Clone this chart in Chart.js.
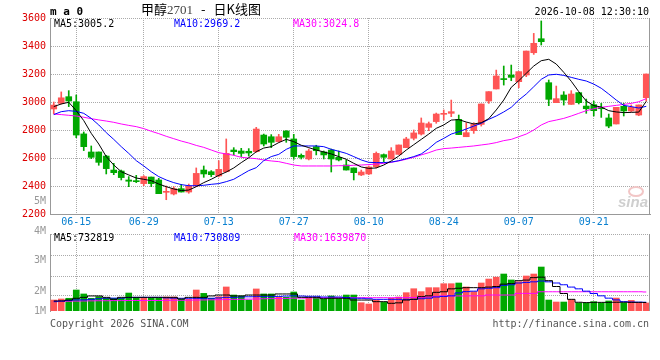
<!DOCTYPE html>
<html>
<head>
<meta charset="utf-8">
<script src="https://cdn.jsdelivr.net/npm/chart.js@4.4.1/dist/chart.umd.min.js"></script>
<style>
    body { margin: 0; background: #fff; }
    #wrap { position: relative; width: 660px; height: 360px; overflow: hidden; background: #fff;
            font-family: "DejaVu Sans Mono", monospace; font-size: 10px; }
    #kline { position: absolute; left: 0; top: 0; }
    #vol { position: absolute; left: 0; top: 226px; }
    .t { position: absolute; white-space: nowrap; line-height: 12px; height: 12px; }
    .r { text-align: right; }
</style>
</head>
<body>
<div id="wrap">
    <canvas id="kline" width="660" height="232"></canvas>
    <canvas id="vol" width="660" height="134"></canvas>

    <div class="t" style="left:50px;top:6px;font-weight:bold;font-size:11px;">m a 0</div>
    <div class="t" style="left:141px;top:1px;height:15px;line-height:15px;font-family:'Noto Sans CJK SC',sans-serif;font-size:13px;">甲醇<span style="color:#444;font-family:'Liberation Serif',serif;">2701</span><span style="margin:0 8px;">-</span>日K线图</div>
    <div class="t r" style="right:11px;top:6px;">2026-10-08 12:30:10</div>

    <div class="t" style="left:54px;top:18px;color:#000;">MA5:3005.2</div>
    <div class="t" style="left:174px;top:18px;color:#0000ff;">MA10:2969.2</div>
    <div class="t" style="left:293px;top:18px;color:#ff00ff;">MA30:3024.8</div>

    <div class="t r" style="right:614px;top:195px;color:#999;">5M</div>
    <div class="t r" style="right:614px;top:225px;color:#999;">4M</div>
    <div class="t r" style="right:614px;top:254px;color:#999;">3M</div>
    <div class="t r" style="right:614px;top:285px;color:#999;">2M</div>
    <div class="t r" style="right:614px;top:305px;color:#999;">1M</div>

    <div class="t" style="left:54px;top:232px;color:#000;">MA5:732819</div>
    <div class="t" style="left:174px;top:232px;color:#0000ff;">MA10:730809</div>
    <div class="t" style="left:294px;top:232px;color:#ff00ff;">MA30:1639870</div>

    <div class="t" style="left:50px;top:318px;color:#555;">Copyright 2026 SINA.COM</div>
    <div class="t r" style="right:11px;top:318px;color:#555;">http://finance.sina.com.cn</div>

    <div style="position:absolute;left:628px;top:186px;width:12px;height:7px;border:2px solid #f2c6c6;border-radius:50%;"></div>
    <div class="t" style="left:618px;top:193px;color:#cfcfcf;font:italic bold 15px 'Liberation Sans',sans-serif;">sina</div>
</div>

<script>
// 日期 (交易日)
const dates = [
    '06-10','06-11','06-12','06-15','06-16','06-17','06-18','06-22','06-23','06-24',
    '06-25','06-26','06-29','06-30','07-01','07-02','07-03','07-06','07-07','07-08',
    '07-09','07-10','07-13','07-14','07-15','07-16','07-17','07-20','07-21','07-22',
    '07-23','07-24','07-27','07-28','07-29','07-30','07-31','08-03','08-04','08-05',
    '08-06','08-07','08-10','08-11','08-12','08-13','08-14','08-17','08-18','08-19',
    '08-20','08-21','08-24','08-25','08-26','08-27','08-28','08-31','09-01','09-02',
    '09-03','09-04','09-07','09-08','09-09','09-10','09-11','09-14','09-15','09-16',
    '09-17','09-18','09-21','09-22','09-23','09-24','09-25','09-28','09-29','09-30'
];
const tickDates = ['06-15', '06-29', '07-13', '07-27', '08-10', '08-24', '09-07', '09-21'];

const opens = [
    2950,2990,3038,3002,2772,2643,2643,2614,2514,2507,
    2443,2436,2417,2464,2443,2355,2343,2381,2357,2400,
    2514,2502,2472,2502,2657,2650,2648,2645,2764,2752,
    2717,2793,2736,2619,2593,2681,2643,2657,2605,2550,
    2529,2479,2486,2538,2624,2593,2626,2674,2741,2771,
    2819,2860,2912,2919,2876,2752,2795,2840,3007,3093,
    3164,3193,3145,3193,3352,3452,3138,2995,3050,2983,
    3067,2971,2981,2957,2886,2843,2969,2936,2907,3031
];
const highs = [
    3000,3072,3081,3050,2786,2686,2643,2619,2562,2514,
    2467,2476,2474,2464,2455,2400,2395,2412,2414,2529,
    2543,2510,2581,2736,2674,2669,2667,2819,2771,2767,
    2769,2795,2769,2629,2664,2691,2650,2664,2650,2586,
    2529,2514,2543,2643,2629,2674,2693,2748,2800,2886,
    2857,2921,2943,3014,2907,2852,2852,2986,3074,3228,
    3257,3264,3217,3364,3490,3579,3157,3114,3074,3081,
    3067,3021,3007,2990,2914,2962,2990,2979,2979,3200
];
const lows = [
    2915,2985,2967,2745,2653,2595,2548,2486,2481,2443,
    2395,2424,2402,2395,2345,2302,2336,2357,2348,2395,
    2462,2467,2465,2500,2622,2610,2614,2640,2686,2674,
    2712,2712,2591,2593,2586,2622,2593,2500,2579,2514,
    2443,2474,2481,2529,2574,2593,2626,2674,2729,2764,
    2795,2848,2871,2895,2767,2752,2776,2828,2990,3093,
    3121,3152,3102,3181,3340,3407,2974,2995,2978,2983,
    2986,2919,2900,2890,2816,2843,2900,2931,2902,3007
];
const closes = [
    2978,3030,3007,2764,2681,2605,2569,2524,2495,2460,
    2434,2431,2467,2417,2345,2360,2381,2357,2400,2490,
    2486,2481,2519,2633,2645,2633,2636,2807,2700,2712,
    2752,2748,2610,2605,2650,2652,2622,2593,2586,2514,
    2495,2500,2536,2633,2605,2650,2693,2736,2779,2850,
    2845,2914,2917,2931,2767,2781,2840,2986,3074,3186,
    3160,3176,3217,3364,3419,3431,3019,3024,3014,3057,
    2995,2952,2938,2952,2828,2962,2936,2962,2979,3200
];

// 均线
const ma5 = [
    2967,2986,2998,2938,2867,2776,2700,2610,2550,2502,
    2479,2457,2448,2438,2414,2395,2379,2367,2371,2395,
    2424,2448,2476,2500,2529,2567,2602,2645,2671,2681,
    2710,2733,2717,2691,2674,2657,2643,2629,2610,2591,
    2562,2536,2526,2529,2550,2579,2614,2657,2695,2733,
    2771,2812,2836,2871,2874,2857,2843,2852,2881,2943,
    3014,3105,3152,3205,3257,3295,3305,3271,3212,3148,
    3074,3007,2974,2964,2938,2929,2924,2926,2928,3005
];
const ma10 = [
    2910,2931,2938,2933,2919,2883,2836,2781,2733,2681,
    2633,2581,2543,2502,2467,2443,2424,2410,2402,2402,
    2405,2412,2417,2431,2448,2479,2510,2531,2581,2610,
    2626,2662,2686,2686,2686,2686,2681,2662,2648,2633,
    2610,2586,2569,2567,2567,2571,2581,2595,2610,2629,
    2667,2712,2740,2771,2788,2807,2828,2848,2876,2900,
    2929,2962,3014,3057,3109,3162,3193,3198,3190,3176,
    3162,3150,3128,3098,3057,3014,2976,2967,2957,2969
];
const ma30 = [
    2914,2910,2905,2900,2891,2881,2872,2864,2855,2843,
    2833,2824,2810,2791,2774,2755,2738,2721,2707,2690,
    2676,2657,2638,2629,2619,2605,2600,2595,2586,2579,
    2574,2562,2550,2543,2543,2543,2543,2543,2545,2545,
    2548,2550,2553,2557,2562,2569,2579,2591,2605,2622,
    2638,2657,2667,2671,2676,2681,2686,2693,2700,2710,
    2724,2733,2752,2771,2800,2836,2860,2871,2883,2900,
    2919,2938,2952,2962,2969,2976,2983,2990,3002,3024
];

// 成交量 (百万)
const volume = [
    0.94,1.03,1.09,1.80,1.46,1.09,1.23,1.09,1.09,1.09,
    1.54,1.17,1.17,1.09,1.09,1.20,1.20,1.00,1.00,1.80,
    1.51,1.09,1.23,2.06,1.37,1.29,0.94,1.89,1.46,1.46,
    1.17,1.17,1.63,0.94,1.09,1.14,1.00,1.29,1.06,1.37,
    1.37,0.71,0.60,0.94,0.74,1.09,1.20,1.57,1.91,1.66,
    2.00,2.00,2.34,2.34,2.40,2.06,1.66,2.40,2.74,2.90,
    3.17,2.66,2.51,3.00,3.17,3.77,0.94,0.77,0.77,0.98,
    0.69,0.69,0.80,0.69,0.86,1.11,0.69,0.91,0.69,0.69
];
const volMa5 = [
    0.86,0.86,0.94,1.09,1.17,1.29,1.29,1.17,1.00,1.17,
    1.17,1.17,1.17,1.17,1.17,1.17,1.17,1.03,1.17,1.17,
    1.17,1.29,1.37,1.37,1.29,1.29,1.37,1.37,1.37,1.37,
    1.46,1.46,1.46,1.17,1.17,1.17,1.06,1.09,1.09,1.09,
    0.94,0.94,0.94,0.80,0.80,0.66,0.70,0.94,1.00,1.23,
    1.30,1.60,1.65,1.90,1.95,2.00,2.00,2.00,2.05,2.10,
    2.30,2.35,2.60,2.65,2.86,2.90,2.60,2.10,1.50,1.00,
    0.75,0.72,0.74,0.74,0.74,0.75,0.75,0.74,0.74,0.73
];
const volMa10 = [
    0.80,0.85,0.90,0.95,0.95,1.00,1.05,1.10,1.10,1.10,
    1.15,1.17,1.17,1.17,1.17,1.12,1.10,1.09,1.09,1.09,
    1.09,1.09,1.12,1.17,1.17,1.20,1.22,1.23,1.23,1.23,
    1.25,1.28,1.30,1.28,1.26,1.26,1.20,1.20,1.20,1.15,
    1.10,1.09,1.05,1.00,1.00,1.00,1.00,1.00,1.00,1.05,
    1.10,1.20,1.25,1.30,1.55,1.66,1.70,1.90,1.95,2.00,
    2.20,2.25,2.40,2.45,2.50,2.57,2.50,2.40,2.25,2.05,
    1.90,1.70,1.50,1.30,1.10,0.95,0.80,0.77,0.76,0.75
];
const volMa30 = [
    0.83,0.83,0.84,0.85,0.86,0.87,0.88,0.88,0.89,0.89,
    0.90,0.90,0.90,0.90,0.90,0.91,0.92,0.92,0.93,0.94,
    0.95,0.96,0.97,0.98,1.00,1.00,1.02,1.03,1.05,1.06,
    1.07,1.08,1.10,1.10,1.12,1.13,1.14,1.14,1.14,1.14,
    1.14,1.14,1.14,1.14,1.14,1.14,1.15,1.15,1.16,1.17,
    1.20,1.25,1.29,1.29,1.29,1.29,1.30,1.30,1.37,1.37,
    1.37,1.37,1.51,1.51,1.51,1.65,1.65,1.65,1.65,1.65,
    1.65,1.65,1.65,1.65,1.65,1.65,1.65,1.65,1.65,1.63
];
const volGrid = [1.3, 3.0, 4.75, 6.6];

const UP = '#ff5555';
const DOWN = '#00a800';
const GRID = '#aaaaaa';
const AXIS = '#999999';
const FONT = '"DejaVu Sans Mono", monospace';

Chart.defaults.font.family = FONT;
Chart.defaults.font.size = 10;

const candleColors = closes.map((c, i) => c >= opens[i] ? UP : DOWN);
const dateGrid = ctx => tickDates.includes(dates[ctx.index]) ? GRID : 'rgba(0,0,0,0)';

// 右边框
const rightFrame = {
    id: 'rightFrame',
    afterDraw(chart) {
        const { ctx, chartArea } = chart;
        const x = Math.round(chartArea.right) - 0.5;
        ctx.save();
        ctx.strokeStyle = AXIS;
        ctx.lineWidth = 1;
        ctx.beginPath();
        ctx.moveTo(x, chartArea.top);
        ctx.lineTo(x, chartArea.bottom);
        ctx.stroke();
        ctx.restore();
    }
};

function maLine(data, color, stepped) {
    return {
        type: 'line', data: data, borderColor: color, borderWidth: 1,
        pointRadius: 0, tension: 0, stepped: stepped || false, order: 0
    };
}

new Chart(document.getElementById('kline'), {
    type: 'bar',
    data: {
        labels: dates,
        datasets: [
            maLine(ma5, '#000000'),
            maLine(ma10, '#0000ff'),
            maLine(ma30, '#ff00ff'),
            {
                data: opens.map((o, i) => [Math.min(o, closes[i]), Math.max(o, closes[i])]),
                backgroundColor: candleColors, barThickness: 6, minBarLength: 1,
                grouped: false, order: 1
            },
            {
                data: lows.map((l, i) => [l, highs[i]]),
                backgroundColor: candleColors, barThickness: 1,
                grouped: false, order: 2
            }
        ]
    },
    options: {
        responsive: false,
        animation: false,
        layout: { padding: { top: 18, right: 10, left: 0, bottom: 0 } },
        plugins: { legend: { display: false }, tooltip: { enabled: false } },
        scales: {
            x: {
                offset: true,
                grid: { offset: false, color: dateGrid, drawTicks: false },
                border: { display: true, color: AXIS, dash: [1, 1] },
                ticks: {
                    autoSkip: false, maxRotation: 0, padding: 2, color: '#0a80d0',
                    callback: (v, i) => tickDates.includes(dates[i]) ? dates[i] : ''
                },
                afterFit: s => { s.height = 18; }
            },
            y: {
                min: 2200, max: 3600,
                ticks: { stepSize: 200, color: '#dd0000', padding: 4, callback: v => String(v) },
                grid: { color: GRID, drawTicks: false },
                border: { display: true, color: AXIS, dash: [1, 1] },
                afterFit: s => { s.width = 50; }
            }
        }
    },
    plugins: [rightFrame]
});

new Chart(document.getElementById('vol'), {
    type: 'bar',
    data: {
        labels: dates,
        datasets: [
            maLine(volMa5, '#000000', 'middle'),
            maLine(volMa10, '#0000ff', 'middle'),
            maLine(volMa30, '#ff00ff', 'middle'),
            { data: volume, backgroundColor: candleColors, barThickness: 6, order: 1 }
        ]
    },
    options: {
        responsive: false,
        animation: false,
        layout: { padding: { top: 8, right: 10, left: 0, bottom: 49 } },
        plugins: { legend: { display: false }, tooltip: { enabled: false } },
        scales: {
            x: {
                offset: true,
                grid: { offset: false, color: dateGrid, drawTicks: false },
                border: { display: false, dash: [1, 1] },
                ticks: { display: false }
            },
            y: {
                min: 0, max: 6.6,
                afterBuildTicks: s => { s.ticks = volGrid.map(v => ({ value: v })); },
                ticks: { display: false },
                grid: { color: GRID, drawTicks: false },
                border: { display: true, color: AXIS, dash: [1, 1] },
                afterFit: s => { s.width = 50; }
            }
        }
    },
    plugins: [rightFrame]
});
</script>
</body>
</html>
